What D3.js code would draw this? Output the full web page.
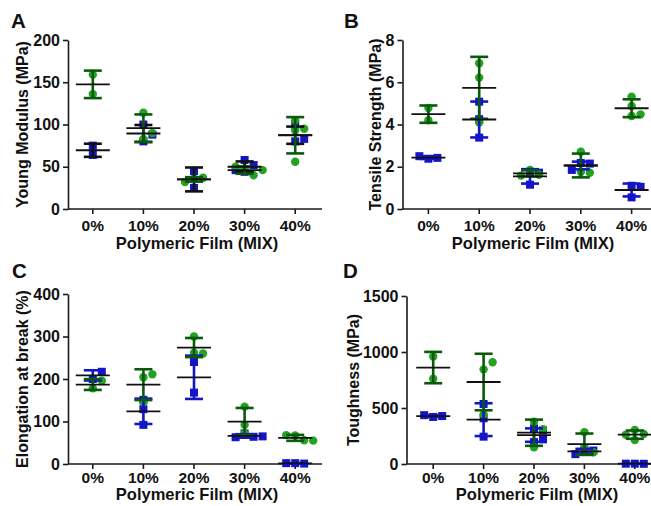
<!DOCTYPE html>
<html>
<head>
<meta charset="utf-8">
<script src="https://cdn.jsdelivr.net/npm/d3@7"></script>
<style>
  body { margin: 0; background: #fff; }
  svg { display: block; }
  text { font-family: "Liberation Sans", Arial, Helvetica, sans-serif; font-weight: bold; fill: #111; }
</style>
</head>
<body>
<svg id="chart" width="651" height="506"></svg>
<script>
// Film composition groups (shared x categories)
const categories = ["0%", "10%", "20%", "30%", "40%"];
const xTitle = "Polymeric Film (MIX)";

// Young modulus (MPa): replicate values per group
const youngBlue  = [[64, 75], [100, 80, 88], [45, 25], [58, 52, 44, 46], [80, 99, 83]];
const youngGreen = [[159, 136], [114, 83, 90], [36, 37, 32], [48, 40, 50, 46], [105, 95, 93, 56]];
const youngTicks = [0, 50, 100, 150, 200];

// Tensile strength (MPa)
const tensileBlue  = [[2.38, 2.42, 2.5], [5.08, 4.25, 3.38], [1.76, 1.72, 1.15], [2.18, 2.15, 1.85], [1.1, 1.05, 0.55]];
const tensileGreen = [[4.78, 4.2], [6.9, 6.22, 4.09], [1.85, 1.62, 1.58], [2.71, 1.75, 1.72], [5.32, 4.88, 4.48, 4.4]];
const tensileTicks = [0, 2, 4, 6, 8];

// Elongation at break (%)
const elongBlue  = [[200, 217], [129, 151, 92], [240, 168], [72, 64, 63, 65], [2, 1, 2]];
const elongGreen = [[178, 196], [204, 211, 145], [300, 262, 260], [135, 92, 72], [67, 56, 68, 55]];
const elongTicks = [0, 100, 200, 300, 400];

// Toughness (MPa)
const toughBlue  = [[420, 428, 436], [536, 408, 244], [318, 300, 195, 220], [131, 120, 88], [3, 2, 3]];
const toughGreen = [[960, 762], [845, 908, 443], [378, 310, 150], [285, 140, 105], [304, 268, 262, 214]];
const toughTicks = [0, 500, 1000, 1500];

const BLUE = "#1414c8";
const GREEN = "#22a322";
const DARK_GREEN = "#0b5a0b";
const AXIS = "#1a1a1a";

const panels = [
  { letter: "A", title: "Young Modulus (MPa)", blue: youngBlue, green: youngGreen, ticks: youngTicks,
    axisX: 68, xRange: [67.5, 320.5], xEnd: 322, yRange: [209, 40], titleX: 28, letterXY: [11, 27.5],
    tickY: 231, xTitleY: 248.5, blueBar: "#111" },
  { letter: "B", title: "Tensile Strength (MPa)", blue: tensileBlue, green: tensileGreen, ticks: tensileTicks,
    axisX: 402.5, xRange: [403, 657], xEnd: 660, yRange: [209, 40], titleX: 381, letterXY: [344, 27.5],
    tickY: 231, xTitleY: 248.5, blueBar: BLUE },
  { letter: "C", title: "Elongation at break (%)", blue: elongBlue, green: elongGreen, ticks: elongTicks,
    axisX: 68, xRange: [67.5, 320.5], xEnd: 322, yRange: [464, 294], titleX: 28, letterXY: [12, 277.5],
    tickY: 483, xTitleY: 500, blueBar: BLUE },
  { letter: "D", title: "Toughness (MPa)", blue: toughBlue, green: toughGreen, ticks: toughTicks,
    axisX: 406.5, xRange: [408, 660], xEnd: 662, yRange: [464, 296], titleX: 359, letterXY: [343, 277.5],
    tickY: 483, xTitleY: 500, blueBar: BLUE }
];

const svg = d3.select("#chart");

// Spread replicates sideways where their markers would overlap
const STEP = 9, MIN_GAP = 8.5;
function swarm(values, y, cx) {
  const placed = [];
  const offsets = [0, 1, -1, 2, -2, 3, -3];
  values.forEach(v => {
    const py = y(v);
    let px = cx;
    for (const s of offsets) {
      px = cx + s * STEP;
      if (placed.every(p => Math.hypot(p.x - px, p.y - py) >= MIN_GAP)) break;
    }
    placed.push({ x: px, y: py, v });
  });
  return placed;
}

function stats(values) {
  return { mean: d3.mean(values), sd: d3.deviation(values) };
}

panels.forEach(p => {
  const g = svg.append("g");
  const ticks = p.ticks;
  const y = d3.scaleLinear().domain([0, ticks[ticks.length - 1]]).range(p.yRange);
  const x = d3.scalePoint().domain(categories).range(p.xRange).padding(0.5);
  const y0 = y(0);

  // y axis
  const yAxis = d3.axisLeft(y).tickValues(ticks).tickSize(5).tickSizeOuter(0).tickPadding(3)
    .tickFormat(d3.format("d"));
  const ya = g.append("g").attr("transform", `translate(${p.axisX},0)`).call(yAxis);
  ya.select(".domain").attr("stroke", AXIS).attr("stroke-width", 1.6);
  ya.selectAll(".tick line").attr("stroke", AXIS).attr("stroke-width", 1.6);
  ya.selectAll(".tick text").attr("font-size", 16).attr("fill", "#111")
    .style("font-family", '"Liberation Sans", Arial, sans-serif').style("font-weight", "bold");

  // x axis
  const xa = g.append("g").attr("transform", `translate(0,${y0})`);
  xa.append("line").attr("x1", p.axisX).attr("x2", p.xEnd).attr("y1", 0).attr("y2", 0)
    .attr("stroke", AXIS).attr("stroke-width", 1.6);
  categories.forEach(c => {
    xa.append("line").attr("x1", x(c)).attr("x2", x(c)).attr("y1", 0).attr("y2", 5)
      .attr("stroke", AXIS).attr("stroke-width", 1.6);
    g.append("text").attr("x", x(c)).attr("y", p.tickY).attr("text-anchor", "middle")
      .attr("font-size", 15.5).text(c);
  });

  // titles
  g.append("text").attr("x", (x(categories[0]) + x(categories[4])) / 2 + 3).attr("y", p.xTitleY)
    .attr("text-anchor", "middle").attr("font-size", 16.5).text(xTitle);
  g.append("text")
    .attr("transform", `translate(${p.titleX},${(p.yRange[0] + p.yRange[1]) / 2}) rotate(-90)`)
    .attr("text-anchor", "middle").attr("font-size", 16).text(p.title);
  g.append("text").attr("x", p.letterXY[0]).attr("y", p.letterXY[1]).attr("font-size", 20.5)
    .text(p.letter);

  const marks = g.append("g");
  const bars = g.append("g");
  const means = g.append("g");

  categories.forEach((c, i) => {
    const cx = x(c);
    const series = [
      { vals: p.blue[i], kind: "square", fill: BLUE, bar: p.blueBar },
      { vals: p.green[i], kind: "circle", fill: GREEN, bar: DARK_GREEN }
    ];
    series.forEach(s => {
      const pts = swarm(s.vals, y, cx);
      if (s.kind === "square") {
        marks.selectAll(null).data(pts).enter().append("rect")
          .attr("x", d => d.x - 4).attr("y", d => d.y - 4).attr("width", 8).attr("height", 8)
          .attr("fill", s.fill);
      } else {
        marks.selectAll(null).data(pts).enter().append("circle")
          .attr("cx", d => d.x).attr("cy", d => d.y).attr("r", 4.2).attr("fill", s.fill);
      }
      const st = stats(s.vals);
      const top = y(st.mean + st.sd), bot = y(Math.max(st.mean - st.sd, 0));
      bars.append("line").attr("x1", cx).attr("x2", cx).attr("y1", top).attr("y2", bot)
        .attr("stroke", s.bar).attr("stroke-width", 2.6);
      [top, bot].forEach(yy => bars.append("line").attr("x1", cx - 9).attr("x2", cx + 9)
        .attr("y1", yy).attr("y2", yy).attr("stroke", s.bar).attr("stroke-width", 2.6));
      means.append("line").attr("x1", cx - 17).attr("x2", cx + 17)
        .attr("y1", y(st.mean)).attr("y2", y(st.mean)).attr("stroke", "#111").attr("stroke-width", 1.8);
    });
  });
});
</script>
</body>
</html>
